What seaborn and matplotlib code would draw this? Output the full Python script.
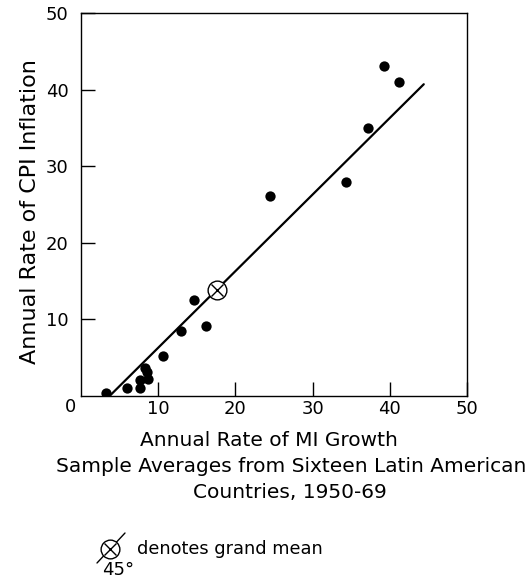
import numpy as np
import pandas as pd
import matplotlib
matplotlib.use("Agg")
import matplotlib.pyplot as plt
from matplotlib.lines import Line2D
import seaborn as sns

# Sample averages, 1950-69, for sixteen Latin American countries (percent per year)
money_growth = [3.3, 5.9, 7.7, 7.7, 8.7, 8.6, 8.3, 10.6, 13.0, 16.2, 14.7,
                24.5, 34.3, 37.2, 39.3, 41.2]
cpi_inflation = [0.4, 1.1, 1.0, 2.1, 2.2, 3.1, 3.6, 5.2, 8.5, 9.1, 12.5,
                 26.1, 28.0, 35.0, 43.1, 41.0]
tick_values = [10, 20, 30, 40, 50]
tick_labels = ["10", "20", "30", "40", "50"]
xlabel_lines = ["Annual Rate of MI Growth",
                "Sample Averages from Sixteen Latin American",
                "Countries, 1950-69"]

df = pd.DataFrame({"m1": money_growth, "cpi": cpi_inflation})
mean_x = df["m1"].mean()
mean_y = df["cpi"].mean()

# 45-degree line through the grand mean
line_x = np.array([2.5, 44.4])
line_df = pd.DataFrame({"m1": line_x, "cpi": line_x + (mean_y - mean_x)})

sns.set_theme(style="white")
plt.rcParams["font.family"] = ["DejaVu Sans"]
plt.rcParams["text.color"] = "black"
plt.rcParams["axes.labelcolor"] = "black"

fig = plt.figure(figsize=(5.32, 5.83), dpi=100)
ax = fig.add_axes([81 / 532, 1 - 396 / 583, (467 - 81) / 532, (396 - 13) / 583])

sns.lineplot(data=line_df, x="m1", y="cpi", ax=ax, color="black",
             linewidth=1.6, clip_on=True)
sns.scatterplot(data=df, x="m1", y="cpi", ax=ax, color="black", s=55,
                edgecolor="black", linewidth=0, zorder=3)

# grand mean marker: open circle with a cross
ax.plot([mean_x], [mean_y], marker="o", ms=13.5, mfc="white", mec="black",
        mew=1.0, zorder=4, linestyle="none")
ax.plot([mean_x], [mean_y], marker="x", ms=9.2, mec="black", mew=1.0,
        zorder=5, linestyle="none")

ax.set_xlim(0, 50)
ax.set_ylim(0, 50)
ax.set_xticks(tick_values)
ax.set_xticklabels(tick_labels)
ax.set_yticks(tick_values)
ax.set_yticklabels(tick_labels)
ax.tick_params(axis="both", direction="in", length=10, width=1,
               color="black", labelsize=13, labelcolor="black")
ax.tick_params(axis="x", pad=3, bottom=True, top=False)
ax.tick_params(axis="y", pad=9, left=True, right=False)
for spine in ax.spines.values():
    spine.set_visible(True)
    spine.set_color("black")
    spine.set_linewidth(1.0)
ax.set_xlabel("")
ax.set_ylabel("")

ax.text(-1.4, -1.45, "0", ha="center", va="center", fontsize=13,
        transform=ax.transData)

fx = lambda px: px / 532
fy = lambda py: 1 - py / 583

# axis titles
fig.text(fx(30), fy(212), "Annual Rate of CPI Inflation", fontsize=16,
         rotation=90, ha="center", va="center")
for label, cx, cy in zip(xlabel_lines, [269, 291, 290], [440, 467, 493]):
    fig.text(fx(cx), fy(cy), label, fontsize=14.5, ha="center", va="center")

# key for the grand-mean symbol
fig.add_artist(Line2D([fx(97), fx(125)], [fy(563), fy(533)], color="black",
                      linewidth=1.0, transform=fig.transFigure))
fig.add_artist(Line2D([fx(110)], [fy(549)], marker="o", ms=13.5, mfc="white",
                      mec="black", mew=1.0, transform=fig.transFigure))
fig.add_artist(Line2D([fx(110)], [fy(549)], marker="x", ms=9.2, mec="black",
                      mew=1.0, transform=fig.transFigure))
fig.text(fx(102), fy(570), "45°", fontsize=13, ha="left", va="center")
fig.text(fx(137), fy(549), "denotes grand mean", fontsize=12.8, ha="left",
         va="center")

fig.savefig("out.png", dpi=100)
